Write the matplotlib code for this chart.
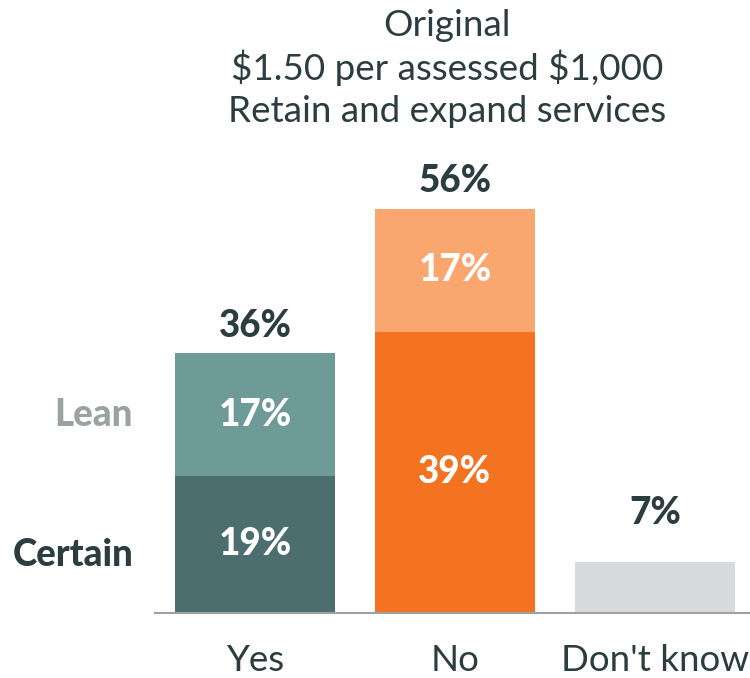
import numpy as np
import matplotlib.pyplot as plt

plt.rcParams['font.family'] = ['Lato', 'DejaVu Sans']

categories = ['Yes', 'No', "Don't know"]
certain = [19, 39, 7]
lean = [17, 17, 0]
title_lines = ['Original', r'\$1.50 per assessed \$1,000', 'Retain and expand services']

certain_colors = ['#4d6e6e', '#f47321', '#d9dadb']
lean_colors = ['#6e9a98', '#f9a76e', '#d9dadb']
dark = '#2b3d3f'
bold_size = 26.5

fig = plt.figure(figsize=(7.5, 6.78), dpi=100)
ax = fig.add_axes([155 / 750, 65 / 678, 595 / 750, 433 / 678])

x = np.arange(len(categories))
totals = [c + l for c, l in zip(certain, lean)]

ax.bar(x, certain, width=0.8, color=certain_colors)
ax.bar(x, lean, width=0.8, bottom=certain, color=lean_colors)

for i in range(len(categories)):
    if lean[i] > 0:
        ax.text(x[i], certain[i] / 2, f'{certain[i]}%', ha='center', va='center',
                color='white', fontsize=bold_size, fontweight='black')
        ax.text(x[i], certain[i] + lean[i] / 2, f'{lean[i]}%', ha='center', va='center',
                color='white', fontsize=bold_size, fontweight='black')
    ax.text(x[i], max(totals[i], 10) + 3.8, f'{totals[i]}%', ha='center', va='center',
            color=dark, fontsize=bold_size, fontweight='black')

# segment labels to the left of the first bar
ax.text(-0.61, certain[0] + lean[0] / 2, 'Lean', ha='right', va='center',
        color='#9aa2a2', fontsize=bold_size, fontweight='black', clip_on=False)
ax.text(-0.61, certain[0] / 2 - 1.4, 'Certain', ha='right', va='center',
        color=dark, fontsize=bold_size, fontweight='black', clip_on=False)

ax.set_xlim(-0.5, 2.475)
ax.set_ylim(0, 60)
ax.set_xticks(x)
ax.set_xticklabels(categories, fontsize=26.5, color=dark)
ax.tick_params(axis='x', length=0, pad=22)
ax.set_yticks([])
for s in ['top', 'right', 'left']:
    ax.spines[s].set_visible(False)
ax.spines['bottom'].set_color('#a0a0a0')
ax.spines['bottom'].set_linewidth(1.5)

for k, line in enumerate(title_lines):
    fig.text(447 / 750, 1 - (25 + 43 * k) / 678, line, ha='center', va='center',
             fontsize=26.5, color=dark)

fig.savefig('out.png', dpi=100)
